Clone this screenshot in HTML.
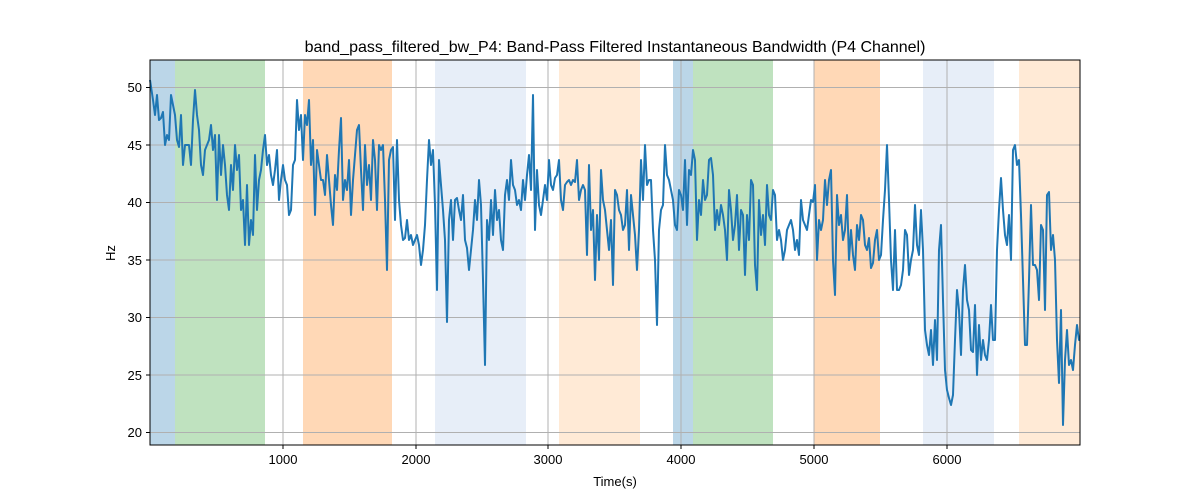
<!DOCTYPE html>
<html><head><meta charset="utf-8"><style>body{margin:0;background:#fff}svg{display:block;font-family:"Liberation Sans","DejaVu Sans",sans-serif}</style></head>
<body>
<svg width="1200" height="500" viewBox="0 0 1200 500" xmlns="http://www.w3.org/2000/svg">
<rect width="1200" height="500" fill="#fff"/>
<g stroke="none">
<rect x="150" y="60" width="25" height="385" fill="#1f77b4" opacity="0.3"/>
<rect x="175" y="60" width="90" height="385" fill="#2ca02c" opacity="0.3"/>
<rect x="303" y="60" width="89" height="385" fill="#ff7f0e" opacity="0.3"/>
<rect x="435" y="60" width="91" height="385" fill="#aec7e8" opacity="0.3"/>
<rect x="559" y="60" width="81" height="385" fill="#ffbb78" opacity="0.3"/>
<rect x="673" y="60" width="20" height="385" fill="#1f77b4" opacity="0.3"/>
<rect x="693" y="60" width="80" height="385" fill="#2ca02c" opacity="0.3"/>
<rect x="814" y="60" width="66" height="385" fill="#ff7f0e" opacity="0.3"/>
<rect x="923" y="60" width="71" height="385" fill="#aec7e8" opacity="0.3"/>
<rect x="1019" y="60" width="61" height="385" fill="#ffbb78" opacity="0.3"/>
</g>
<g stroke="#b0b0b0" stroke-width="1">
<line x1="283" y1="60" x2="283" y2="445"/><line x1="416" y1="60" x2="416" y2="445"/><line x1="548" y1="60" x2="548" y2="445"/><line x1="681" y1="60" x2="681" y2="445"/><line x1="814" y1="60" x2="814" y2="445"/><line x1="947" y1="60" x2="947" y2="445"/>
<line x1="150" y1="87.5" x2="1080" y2="87.5"/><line x1="150" y1="145" x2="1080" y2="145"/><line x1="150" y1="202.5" x2="1080" y2="202.5"/><line x1="150" y1="260" x2="1080" y2="260"/><line x1="150" y1="317.5" x2="1080" y2="317.5"/><line x1="150" y1="375" x2="1080" y2="375"/><line x1="150" y1="432.5" x2="1080" y2="432.5"/>
</g>
<polyline fill="none" stroke="#1f77b4" stroke-width="2" stroke-linejoin="round" points="150,80 153,100 155,115 157,95 159,120 161,118 163,112 165,145 167,135 169,140 171,95 173,105 175,115 177,140 179,147 181,115 183,165 185,145 187,145 189,145 191,165 193,120 195,90 197,115 199,130 201,165 203,175 205,150 207,145 209,140 211,125 213,150 215,135 217,200 219,135 221,175 223,145 225,165 227,195 229,210 231,165 233,190 235,145 237,170 239,155 241,210 243,200 245,245 247,185 249,245 251,220 253,235 255,155 257,210 259,180 261,170 263,150 265,135 267,165 269,155 271,175 273,185 275,170 277,150 279,200 281,180 283,165 285,180 287,185 289,215 291,210 293,165 295,160 297,100 299,130 301,115 303,160 305,115 307,125 309,100 311,165 313,140 315,215 317,150 319,165 321,180 323,180 325,195 327,155 329,180 331,205 333,225 335,175 337,190 339,150 341,118 343,200 345,180 347,190 349,160 351,215 353,180 355,155 357,130 359,125 361,170 363,210 365,145 367,185 369,165 371,200 373,140 375,160 377,210 379,145 381,150 383,145 385,200 387,270 389,160 391,150 393,147 395,220 397,140 399,200 401,225 403,240 405,238 407,220 409,240 411,235 413,245 415,240 417,235 419,245 421,265 423,250 425,225 427,180 429,140 431,165 433,150 435,205 437,290 439,160 441,185 443,210 445,240 447,322 449,220 451,200 453,240 455,200 457,198 459,210 461,220 463,195 465,240 467,248 469,270 471,250 473,230 475,200 477,220 479,180 481,205 483,280 485,365 487,220 489,240 491,200 493,235 495,190 497,220 499,210 501,240 503,250 505,195 507,180 509,200 511,160 513,185 515,190 517,205 519,200 521,210 523,180 525,200 527,175 529,155 531,190 533,95 535,230 537,170 539,205 541,215 543,200 545,185 547,200 549,160 551,185 553,190 555,178 557,175 559,160 561,200 563,210 565,185 567,182 569,180 571,185 573,180 575,182 577,160 579,200 581,190 583,185 585,190 587,255 589,165 591,230 593,210 595,280 597,215 599,260 601,170 603,200 605,210 607,230 609,250 611,220 613,285 615,190 617,195 619,210 621,215 623,230 625,225 627,190 629,250 631,195 633,215 635,235 637,270 639,230 641,160 643,200 645,145 647,185 649,180 651,180 653,230 655,260 657,325 659,230 661,210 663,205 665,145 667,175 669,180 671,190 673,200 675,225 677,230 679,190 681,195 683,210 685,160 687,225 689,170 691,175 693,150 695,160 697,240 699,200 701,215 703,180 705,200 707,195 709,160 711,158 713,175 715,230 717,210 719,225 721,205 723,215 725,230 727,260 729,190 731,210 733,240 735,225 737,195 739,250 741,210 743,215 745,275 747,215 749,240 751,180 753,185 755,265 757,290 759,200 761,235 763,215 765,245 767,185 769,215 771,220 773,190 775,195 777,240 779,230 781,240 783,260 785,250 787,230 789,225 791,220 793,230 795,250 797,240 799,255 801,200 803,220 805,225 807,230 809,215 811,200 813,202 815,185 817,260 819,220 821,230 823,220 825,180 827,205 829,180 831,170 833,260 835,295 837,195 839,225 841,215 843,240 845,230 847,195 849,260 851,230 853,255 855,270 857,225 859,240 861,215 863,220 865,245 867,250 869,238 871,268 873,263 875,240 877,230 879,260 881,255 883,220 885,190 887,145 889,200 891,260 893,290 895,230 897,290 899,290 901,285 903,270 905,230 907,235 909,275 911,260 913,250 915,205 917,245 919,255 921,210 923,250 925,330 927,345 929,355 931,330 933,365 935,320 937,360 939,250 941,225 943,300 945,370 947,390 949,398 951,405 953,395 955,340 957,290 959,310 961,355 963,290 965,265 967,300 969,310 971,350 973,352 975,305 977,375 979,325 981,360 983,340 985,355 987,360 989,340 991,305 993,340 995,340 997,250 999,210 1001,178 1003,210 1005,235 1007,245 1009,215 1011,260 1013,150 1015,145 1017,165 1019,160 1021,215 1023,280 1025,345 1027,345 1029,280 1031,205 1033,265 1035,265 1037,270 1039,300 1041,225 1043,230 1045,310 1047,195 1049,192 1051,250 1053,235 1055,260 1057,340 1059,383 1061,310 1063,425 1065,360 1067,330 1069,365 1071,360 1073,370 1075,345 1077,325 1079,340 1080,340"/>
<rect x="150" y="60" width="930" height="385" fill="none" stroke="#000" stroke-width="1"/>
<g stroke="#000" stroke-width="1">
<line x1="283" y1="445" x2="283" y2="449"/><line x1="416" y1="445" x2="416" y2="449"/><line x1="548" y1="445" x2="548" y2="449"/><line x1="681" y1="445" x2="681" y2="449"/><line x1="814" y1="445" x2="814" y2="449"/><line x1="947" y1="445" x2="947" y2="449"/>
<line x1="146" y1="87.5" x2="150" y2="87.5"/><line x1="146" y1="145" x2="150" y2="145"/><line x1="146" y1="202.5" x2="150" y2="202.5"/><line x1="146" y1="260" x2="150" y2="260"/><line x1="146" y1="317.5" x2="150" y2="317.5"/><line x1="146" y1="375" x2="150" y2="375"/><line x1="146" y1="432.5" x2="150" y2="432.5"/>
</g>
<g font-size="13" fill="#000" text-anchor="middle">
<text x="283" y="464">1000</text><text x="416" y="464">2000</text><text x="548" y="464">3000</text><text x="681" y="464">4000</text><text x="814" y="464">5000</text><text x="947" y="464">6000</text>
</g>
<g font-size="13" fill="#000" text-anchor="end">
<text x="142" y="92">50</text><text x="142" y="150">45</text><text x="142" y="207">40</text><text x="142" y="265">35</text><text x="142" y="322">30</text><text x="142" y="380">25</text><text x="142" y="437">20</text>
</g>
<text x="615" y="486" font-size="13" text-anchor="middle">Time(s)</text>
<text x="115" y="253" font-size="13" text-anchor="middle" transform="rotate(-90 115 253)">Hz</text>
<text x="615" y="52" font-size="16" text-anchor="middle">band_pass_filtered_bw_P4: Band-Pass Filtered Instantaneous Bandwidth (P4 Channel)</text>
</svg>
</body></html>
